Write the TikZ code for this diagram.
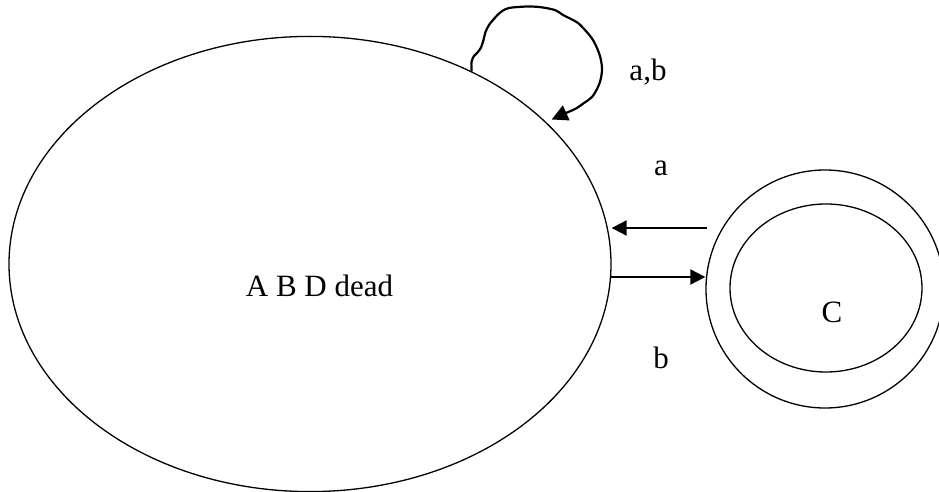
\documentclass[tikz,border=0pt]{standalone}
\usepackage{fontspec}
\setmainfont{Liberation Serif}
\usepackage{tikz}
\usetikzlibrary{shapes.geometric, arrows.meta, positioning}

\begin{document}
\begin{tikzpicture}[
  x=0.5pt, y=-0.5pt,
  font=\fontsize{15.5}{18}\selectfont,
  state/.style={ellipse, draw=black, line width=0.65pt, inner sep=0pt},
  arrow/.style={-{Triangle[length=7.5pt, width=7.5pt]}, line width=1pt},
  loopline/.style={-{Triangle[length=8pt, width=8pt]}, line width=1.1pt, line join=round},
  lbl/.style={anchor=base, inner sep=0pt}
]
\useasboundingbox (0,0) rectangle (939,492);
\node[state, minimum width=301pt, minimum height=227.6pt] (dead) at (310,264) {};
\node[state, minimum width=119pt, minimum height=119pt] (C) at (825,289) {};
\node[state, minimum width=96pt, minimum height=84pt] (Cin) at (826,288) {};
\node[lbl] (deadtxt) at (319.5,297) {A B D dead};
\node[lbl] (Ctxt) at (832,322) {C};
\node[lbl] (ab) at (648,81) {a,b};
\node[lbl] (la) at (661,176) {a};
\node[lbl] (lb) at (661,369) {b};
% transitions
\coordinate (aout) at (707,228);
\coordinate (bin) at (611,277);
\draw[arrow] (aout) -- (dead.east |- aout);
\draw[arrow] (bin) -- (C.west |- bin);
\draw[loopline] plot[smooth, tension=0.55] coordinates {(dead.50.4) (471.5,62) (474,56) (477.5,52.5) (481,47.5) (483.5,40) (485.5,32) (489,25) (493,20) (498,14.5) (503,10.5) (509,8) (518,7) (528,6.5) (537,6.8) (546,8) (556,10.5) (563,15) (571,19) (578,23) (585,30) (592,38.5) (597,48) (600.5,58) (602,68) (601,78) (598,87) (592,97) (584,103) (576,108.5) (566,113) (551.7,119.5)};
\end{tikzpicture}
\end{document}
